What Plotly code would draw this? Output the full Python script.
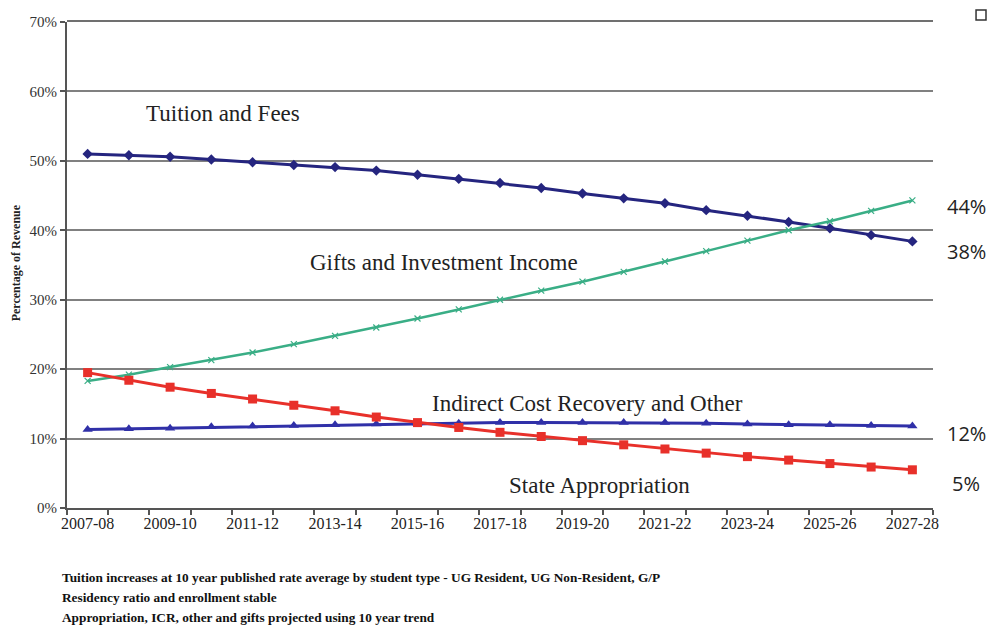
import plotly.graph_objects as go

years = ["2007-08","2008-09","2009-10","2010-11","2011-12","2012-13","2013-14","2014-15",
         "2015-16","2016-17","2017-18","2018-19","2019-20","2020-21","2021-22","2022-23",
         "2023-24","2024-25","2025-26","2026-27","2027-28"]
tuition = [51.0, 50.8, 50.6, 50.2, 49.8, 49.4, 49.1, 48.6, 48.0, 47.4, 46.8, 46.1, 45.3,
           44.6, 43.9, 42.9, 42.1, 41.2, 40.3, 39.3, 38.4]
gifts = [18.3, 19.2, 20.3, 21.3, 22.4, 23.6, 24.8, 26.0, 27.3, 28.6, 30.0, 31.3, 32.6,
         34.0, 35.5, 37.0, 38.5, 40.0, 41.3, 42.8, 44.3]
indirect = [11.3, 11.4, 11.5, 11.7, 11.8, 11.9, 12.0, 12.1, 12.2, 12.2, 12.3, 12.3, 12.3,
            12.3, 12.3, 12.2, 12.1, 12.0, 12.0, 11.9, 11.8]
state = [19.5, 18.4, 17.4, 16.5, 15.7, 14.8, 14.0, 13.1, 12.3, 11.6, 10.9, 10.3, 9.7,
         9.1, 8.5, 7.9, 7.4, 6.9, 6.4, 5.9, 5.5]
end_labels = ["44%", "38%", "12%", "5%"]
end_label_y = [43.4, 36.9, 10.7, 3.5]
y_ticks = [0, 10, 20, 30, 40, 50, 60, 70]
notes = ["Tuition increases at 10 year published rate average by student type - UG Resident, UG Non-Resident, G/P",
         "Residency ratio and enrollment stable",
         "Appropriation, ICR, other and gifts projected using 10 year trend"]
series_labels = ["Tuition and Fees", "Gifts and Investment Income",
                 "Indirect Cost Recovery and Other", "State Appropriation"]
series_label_x = [3.28, 8.64, 12.13, 12.42]
series_label_y = [56.8, 35.4, 15.0, 3.3]

x = list(range(len(years)))
fig = go.Figure()

fig.add_trace(go.Scatter(x=x, y=tuition, mode="lines+markers", name="Tuition and Fees",
                         line=dict(color="#25257f", width=3),
                         marker=dict(symbol="diamond", size=8, color="#25257f")))
fig.add_trace(go.Scatter(x=x, y=gifts, mode="lines+markers", name="Gifts and Investment Income",
                         line=dict(color="#3aae86", width=2.5),
                         marker=dict(symbol="x-thin", size=6, line=dict(color="#3aae86", width=1.2))))
fig.add_trace(go.Scatter(x=x, y=indirect, mode="lines+markers", name="Indirect Cost Recovery and Other",
                         line=dict(color="#3030a8", width=3),
                         marker=dict(symbol="triangle-up", size=9, color="#3030a8")))
fig.add_trace(go.Scatter(x=x, y=state, mode="lines+markers", name="State Appropriation",
                         line=dict(color="#e8302a", width=3),
                         marker=dict(symbol="square", size=9, color="#e8302a")))

serif = "Liberation Serif, Times New Roman, serif"

fig.update_layout(
    width=989, height=631,
    margin=dict(l=67, r=56, t=22, b=123),
    paper_bgcolor="white", plot_bgcolor="white",
    showlegend=False,
    font=dict(family=serif, color="#222"),
    xaxis=dict(range=[-0.5, len(years) - 0.5],
               tickmode="array", tickvals=x[::2], ticktext=years[::2],
               ticks="", showgrid=False, zeroline=False,
               showline=True, linecolor="#555", linewidth=2,
               tickfont=dict(family=serif, size=16, color="#222"),
               minor=dict(tickmode="linear", tick0=-0.5, dtick=1, ticks="outside",
                          ticklen=5, tickwidth=1.5, tickcolor="#555", showgrid=False)),
    yaxis=dict(range=[0, 70], tickmode="array", tickvals=y_ticks,
               ticktext=[f"{v}%" for v in y_ticks],
               showgrid=True, gridcolor="#808080", gridwidth=1.5,
               zeroline=False, showline=True, linecolor="#555", linewidth=2,
               ticks="outside", ticklen=5, tickwidth=1.5, tickcolor="#555",
               tickfont=dict(family=serif, size=15, color="#333")),
)

# top gridline at 70% (top edge of the plot area)
fig.add_shape(type="line", xref="paper", yref="paper", x0=0, x1=1, y0=1.002, y1=1.002,
              line=dict(color="#707070", width=2), layer="above")

for text, xx, yy in zip(series_labels, series_label_x, series_label_y):
    fig.add_annotation(x=xx, y=yy, xref="x", yref="y", text=text, showarrow=False,
                       font=dict(family=serif, size=23, color="#222"))

for lab, yy in zip(end_labels, end_label_y):
    fig.add_annotation(x=1.0, xref="paper", xanchor="center", xshift=33, y=yy, yref="y",
                       text=lab, showarrow=False,
                       font=dict(family="Open Sans, DejaVu Sans, sans-serif", size=20, color="#222"))

fig.add_annotation(x=-0.069, xref="paper", y=0.504, yref="paper", text="<b>Percentage of Revenue</b>",
                   textangle=-90, showarrow=False,
                   font=dict(family=serif, size=12, color="#222"))

for i, n in enumerate(notes):
    fig.add_annotation(x=-0.008, xref="paper", xanchor="left", y=-0.1625 - i * 0.0412, yref="paper",
                       text=f"<b>{n}</b>", showarrow=False,
                       font=dict(family=serif, size=13.3, color="#111"))

fig.add_shape(type="rect", xref="paper", yref="paper", x0=1.0497, x1=1.0612,
              y0=1.004, y1=1.0247, line=dict(color="#333", width=1.5))

fig.write_html("out.html", config={"displayModeBar": False},
               post_script="document.body.style.margin='0';document.body.style.overflow='hidden';")
